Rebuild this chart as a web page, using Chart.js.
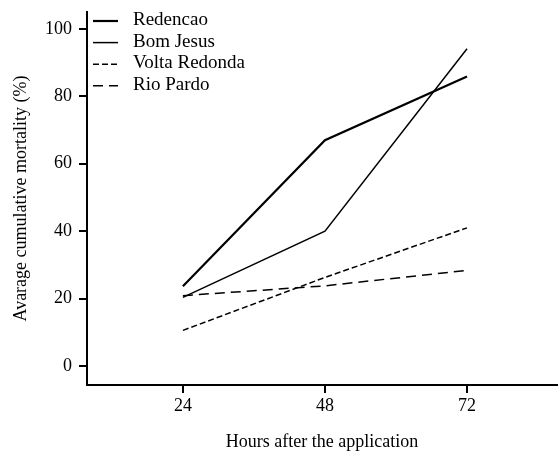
<!DOCTYPE html>
<html>
<head>
<meta charset="utf-8">
<script src="https://cdn.jsdelivr.net/npm/chart.js@4/dist/chart.umd.min.js"></script>
<style>
  html, body { margin: 0; padding: 0; background: #fff; }
  #wrap { width: 558px; height: 451px; }
</style>
</head>
<body>
<div id="wrap"><canvas id="chart"></canvas></div>
<script>
// hours after application
const hours = [24, 48, 72];
const xTicks = [24, 48, 72];
const yTicks = [0, 20, 40, 60, 80, 100];

// average cumulative mortality (%)
const redencao = [23.7, 67, 85.9];
const bomJesus = [20.4, 40, 94.1];
const voltaRedonda = [10.6, 26.3, 41];
const rioPardo = [20.9, 23.8, 28.4];

const FONT = "'Liberation Serif', 'Times New Roman', serif";

function pts(values) {
    return hours.map((h, i) => ({ x: h, y: values[i] }));
}

// legend drawn inside the plot, top-left
const insideLegend = {
    id: 'insideLegend',
    afterDraw(chart) {
        const ctx = chart.ctx;
        const area = chart.chartArea;
        ctx.save();
        ctx.font = '19px ' + FONT;
        ctx.fillStyle = '#000';
        ctx.textBaseline = 'middle';
        chart.data.datasets.forEach((ds, i) => {
            const y = area.top + 9 + i * 21.6;
            ctx.beginPath();
            ctx.strokeStyle = '#000';
            ctx.lineWidth = ds.borderWidth;
            ctx.setLineDash(ds.borderDash || []);
            ctx.moveTo(area.left + 6, y);
            ctx.lineTo(area.left + 31, y);
            ctx.stroke();
            ctx.setLineDash([]);
            ctx.fillText(ds.label, area.left + 46, y - 1);
        });
        ctx.restore();
    }
};

new Chart(document.getElementById('chart'), {
    type: 'line',
    data: {
        datasets: [
            { label: 'Redencao', data: pts(redencao), borderColor: '#000', borderWidth: 2.2 },
            { label: 'Bom Jesus', data: pts(bomJesus), borderColor: '#000', borderWidth: 1.5 },
            { label: 'Volta Redonda', data: pts(voltaRedonda), borderColor: '#000', borderWidth: 1.5, borderDash: [6, 3] },
            { label: 'Rio Pardo', data: pts(rioPardo), borderColor: '#000', borderWidth: 1.5, borderDash: [10, 6] }
        ]
    },
    options: {
        responsive: true, maintainAspectRatio: false, animation: false,
        layout: { padding: { top: 12, right: 1, left: 0, bottom: 0 } },
        elements: { point: { radius: 0 }, line: { tension: 0, fill: false } },
        plugins: { legend: { display: false }, tooltip: { enabled: false } },
        scales: {
            x: {
                type: 'linear', min: 7.8, max: 87.2,
                afterBuildTicks: s => { s.ticks = xTicks.map(v => ({ value: v })); },
                afterFit: s => { s.height = 66; s.paddingLeft = 0; s.paddingRight = 0; },
                grid: { drawOnChartArea: false, color: '#000', lineWidth: 2, tickLength: 8 },
                border: { display: true, color: '#000', width: 2 },
                ticks: { color: '#000', padding: 2, font: { family: FONT, size: 18 } },
                title: { display: true, text: 'Hours after the application', color: '#000', padding: 0,
                         font: { family: FONT, size: 18, lineHeight: 1 } }
            },
            y: {
                min: -5.6, max: 105,
                afterBuildTicks: s => { s.ticks = yTicks.map(v => ({ value: v })); },
                afterFit: s => { s.width = 87; s.paddingTop = 0; s.paddingBottom = 0; },
                grid: { drawOnChartArea: false, color: '#000', lineWidth: 2, tickLength: 8 },
                border: { display: true, color: '#000', width: 2 },
                ticks: { color: '#000', padding: 7, font: { family: FONT, size: 18 } },
                title: { display: true, text: 'Avarage cumulative mortality (%)', color: '#000',
                         padding: { top: 10, bottom: 0 }, font: { family: FONT, size: 18 } }
            }
        }
    },
    plugins: [insideLegend]
});
</script>
</body>
</html>
